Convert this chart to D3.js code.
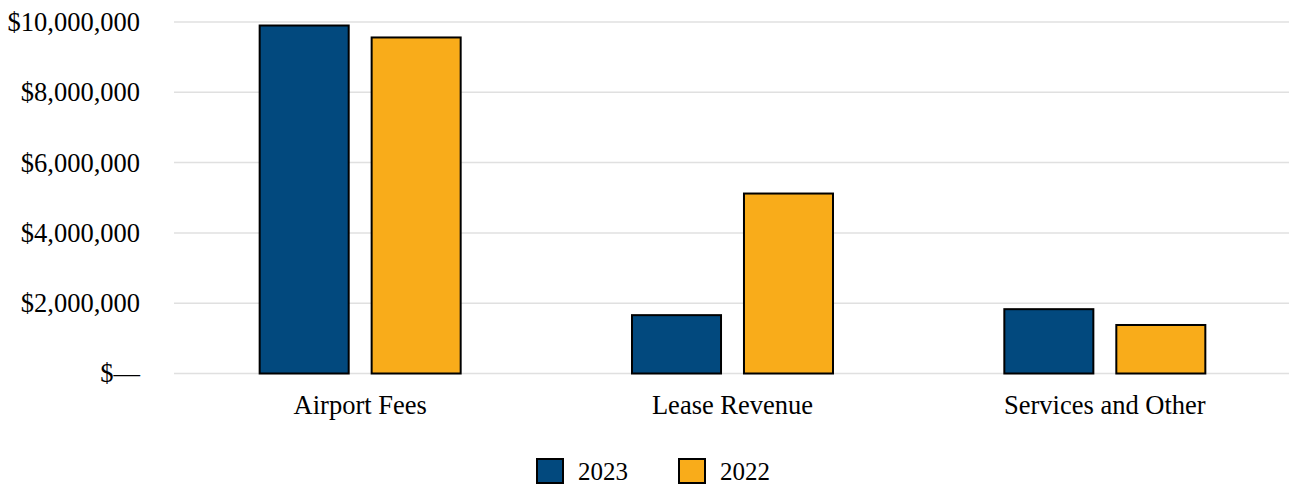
<!DOCTYPE html>
<html>
<head>
<meta charset="utf-8">
<script src="https://cdn.jsdelivr.net/npm/d3@7"></script>
<style>
  html, body { margin: 0; padding: 0; background: #fff; }
  svg { display: block; font-family: "Liberation Serif", "Times New Roman", serif; }
</style>
</head>
<body>
<svg id="chart" width="1289" height="485"></svg>
<script>
// Revenue by source, two fiscal years
const categories = ["Airport Fees", "Lease Revenue", "Services and Other"];
const seriesNames = ["2023", "2022"];
const values2023 = [9900000, 1660000, 1830000];
const values2022 = [9560000, 5120000, 1380000];
const tickValues = [0, 2000000, 4000000, 6000000, 8000000, 10000000];
const colors = ["#02497e", "#f9ac1a"];

const series = [values2023, values2022];

const svg = d3.select("#chart");
const margin = { left: 174, right: -2, top: 22, bottom: 111 };
const width = 1289, height = 485;
const fontSize = 26.5;
const legendFontSize = 25;

const x = d3.scaleBand()
  .domain(categories)
  .range([margin.left, width - margin.right])
  .paddingInner(0)
  .paddingOuter(0);

const inner = d3.scaleBand()
  .domain(seriesNames)
  .range([0, x.bandwidth()])
  .paddingOuter(0.765)
  .paddingInner(0.205);

const y = d3.scaleLinear()
  .domain([0, 10000000])
  .range([height - margin.bottom - 0.5, margin.top]);

const fmt = v => v === 0 ? "$\u2014" : "$" + d3.format(",")(v);

// gridlines
svg.append("g")
  .selectAll("line")
  .data(tickValues)
  .join("line")
  .attr("x1", margin.left)
  .attr("x2", width)
  .attr("y1", d => y(d))
  .attr("y2", d => y(d))
  .attr("stroke", "#e0e0e0")
  .attr("stroke-width", 1.5);

// y axis labels
const yAxis = d3.axisLeft(y).tickValues(tickValues).tickFormat(fmt).tickSize(0).tickPadding(0);
const yg = svg.append("g").attr("transform", "translate(140,0)").call(yAxis);
yg.select(".domain").remove();
yg.selectAll("text")
  .attr("font-family", "Liberation Serif, Times New Roman, serif")
  .attr("font-size", fontSize)
  .attr("fill", "#000")
  .attr("dy", "0.32em");

// bars
const groups = svg.append("g")
  .selectAll("g")
  .data(categories)
  .join("g")
  .attr("transform", d => `translate(${x(d)},0)`);

groups.selectAll("rect")
  .data((d, i) => seriesNames.map((s, j) => ({ s, v: series[j][i], c: colors[j] })))
  .join("rect")
  .attr("x", d => inner(d.s))
  .attr("width", inner.bandwidth())
  .attr("y", d => y(d.v))
  .attr("height", d => y(0) - y(d.v))
  .attr("fill", d => d.c)
  .attr("stroke", "#000")
  .attr("stroke-width", 2);

// x axis labels
const xAxis = d3.axisBottom(x).tickSize(0).tickPadding(0);
const xg = svg.append("g").attr("transform", `translate(0,${y(0) + 40})`).call(xAxis);
xg.select(".domain").remove();
xg.selectAll("text")
  .attr("font-family", "Liberation Serif, Times New Roman, serif")
  .attr("font-size", fontSize)
  .attr("fill", "#000")
  .attr("dy", 0);

// legend
const legendItems = [{ name: "2023", x: 537 }, { name: "2022", x: 679 }];
const legend = svg.append("g");
legendItems.forEach((it, i) => {
  legend.append("rect")
    .attr("x", it.x)
    .attr("y", 459)
    .attr("width", 26)
    .attr("height", 24)
    .attr("fill", colors[i])
    .attr("stroke", "#000")
    .attr("stroke-width", 2);
  legend.append("text")
    .attr("x", it.x + 41)
    .attr("y", 479.5)
    .attr("font-size", legendFontSize)
    .attr("font-family", "Liberation Serif, Times New Roman, serif")
    .attr("fill", "#000")
    .text(it.name);
});
</script>
</body>
</html>
